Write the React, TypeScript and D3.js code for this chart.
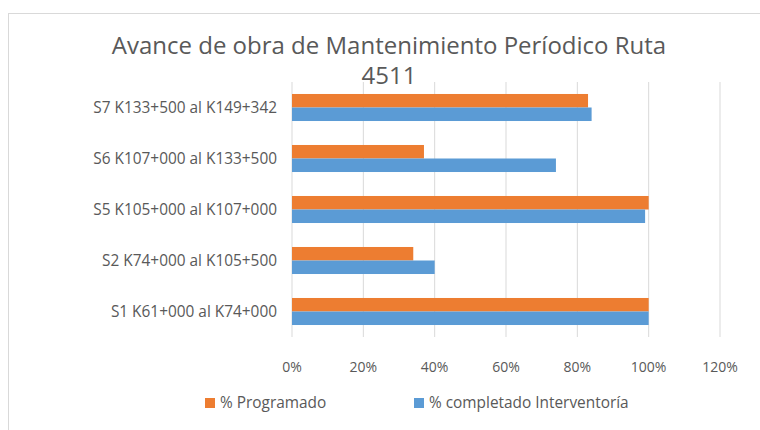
import React from "react";
import * as d3 from "d3";

const width = 760;
const height = 430;
const margin = { top: 82, right: 40, bottom: 93, left: 292 };

const categories = [
  "S7 K133+500 al K149+342",
  "S6 K107+000 al K133+500",
  "S5 K105+000 al K107+000",
  "S2 K74+000 al K105+500",
  "S1 K61+000 al K74+000"
];
const programado = [0.83, 0.37, 1.0, 0.34, 1.0];
const completado = [0.84, 0.74, 0.99, 0.4, 1.0];
const ticks = [0, 0.2, 0.4, 0.6, 0.8, 1.0, 1.2];
const seriesNames = ["% Programado", "% completado Interventoría"];
const colors = ["#ED7D31", "#5B9BD5"];

const font = "'Open Sans', 'Noto Sans', sans-serif";

export default function App() {
  const xScale = d3
    .scaleLinear()
    .domain([0, 1.2])
    .range([margin.left, 720]);
  const yScale = d3
    .scaleBand()
    .domain(categories)
    .range([margin.top, height - margin.bottom])
    .paddingInner(0.47)
    .paddingOuter(0.235);
  const inner = d3
    .scaleBand()
    .domain(["0", "1"])
    .range([0, yScale.bandwidth()]);

  const series = [programado, completado];
  const fmt = d3.format(".0%");

  return (
    <svg
      width={width}
      height={height}
      style={{ position: "absolute", left: 0, top: 0, background: "#fff" }}
      fontFamily={font}
    >
      <rect x={8.5} y={13.5} width={760} height={430} fill="none" stroke="#D9D9D9" />
      <text x={389} y={54} textAnchor="middle" fontSize={24} fill="#595959">
        Avance de obra de Mantenimiento Períodico Ruta
      </text>
      <text x={389} y={84} textAnchor="middle" fontSize={24} fill="#595959">
        4511
      </text>
      {ticks.map(t => (
        <g key={t}>
          <line
            x1={xScale(t)}
            x2={xScale(t)}
            y1={margin.top}
            y2={height - margin.bottom}
            stroke="#D9D9D9"
          />
          <text
            x={xScale(t)}
            y={372}
            textAnchor="middle"
            fontSize={14}
            fill="#595959"
          >
            {fmt(t)}
          </text>
        </g>
      ))}
      {categories.map((c, i) => (
        <g key={c}>
          {series.map((s, j) => (
            <rect
              key={j}
              x={xScale(0)}
              y={(yScale(c) as number) + (inner(String(j)) as number)}
              width={xScale(s[i]) - xScale(0)}
              height={inner.bandwidth()}
              fill={colors[j]}
            />
          ))}
          <text
            x={277}
            y={(yScale(c) as number) + yScale.bandwidth() / 2}
            dy="0.35em"
            textAnchor="end"
            fontSize={15.4}
            fill="#595959"
          >
            {c}
          </text>
        </g>
      ))}
      {seriesNames.map((n, j) => {
        const lx = j === 0 ? 205 : 414;
        return (
          <g key={n}>
            <rect x={lx} y={398} width={10} height={10} fill={colors[j]} />
            <text x={lx + 15} y={403} dy="0.35em" fontSize={15.4} fill="#595959">
              {n}
            </text>
          </g>
        );
      })}
    </svg>
  );
}
